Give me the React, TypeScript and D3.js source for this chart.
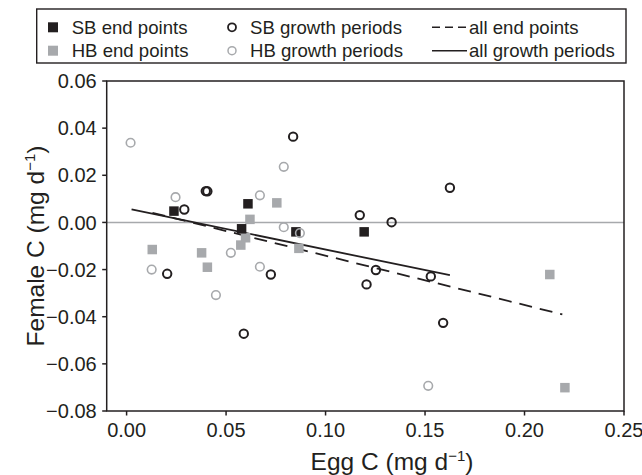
import React from "react";
import * as d3 from "d3";

// ---- Data ----
const sbEndX = [0.0238, 0.061, 0.0578, 0.0851, 0.1194];
const sbEndY = [0.0048, 0.0079, -0.0027, -0.004, -0.004];

const hbEndX = [0.0129, 0.0377, 0.0406, 0.0574, 0.0598, 0.062, 0.0755, 0.0866, 0.2127, 0.2203];
const hbEndY = [-0.0115, -0.0129, -0.019, -0.0096, -0.0065, 0.0013, 0.0083, -0.011, -0.0221, -0.0701];

const sbGrowthX = [0.0204, 0.029, 0.0398, 0.0406, 0.0589, 0.0725, 0.0837, 0.1172, 0.1206, 0.1253, 0.1332, 0.1529, 0.1591, 0.1625];
const sbGrowthY = [-0.0218, 0.0055, 0.0133, 0.0132, -0.0472, -0.0221, 0.0364, 0.0031, -0.0263, -0.0202, 0.0001, -0.0229, -0.0426, 0.0147];

const hbGrowthX = [0.002, 0.0126, 0.0246, 0.0449, 0.0524, 0.067, 0.067, 0.079, 0.079, 0.0871, 0.1516];
const hbGrowthY = [0.0338, -0.02, 0.0107, -0.0308, -0.0129, 0.0115, -0.0188, 0.0236, -0.002, -0.0045, -0.0693];

// regression line end points
const endFitX = [0.013, 0.219];
const endFitY = [0.0041, -0.039];
const growthFitX = [0.0025, 0.1625];
const growthFitY = [0.0055, -0.0224];

const xTicks = [0, 0.05, 0.1, 0.15, 0.2, 0.25];
const yTicks = [0.06, 0.04, 0.02, 0, -0.02, -0.04, -0.06, -0.08];

const legendRow1 = ["SB end points", "SB growth periods", "all end points"];
const legendRow2 = ["HB end points", "HB growth periods", "all growth periods"];

const DARK = "#231f20";
const GRAY = "#a7a9ac";
const FONT = "'Liberation Sans', Arial, Helvetica, sans-serif";

export default function App() {
  const W = 642, H = 475;
  const L = 106.7, R = 624, T = 81, B = 411;
  const x = d3.scaleLinear().domain([-0.01, 0.25]).range([L, R]);
  const y = d3.scaleLinear().domain([-0.08, 0.06]).range([B, T]);
  const fmt = d3.format(".2f");
  const line = d3.line<[number, number]>().x(d => x(d[0])).y(d => y(d[1]));
  const pts = (xs: number[], ys: number[]) => xs.map((v, i) => [v, ys[i]] as [number, number]);
  const sq = 9.5;

  return (
    <div style={{ position: "fixed", left: 0, top: 0 }}>
      <svg width={W} height={H} style={{ display: "block", background: "#fff" }} fontFamily={FONT}>
        {/* legend */}
        <rect x={36.7} y={9} width={589.3} height={54} fill="none" stroke={DARK} strokeWidth={1.4} />
        <g fontSize={18.6} fill={DARK}>
          <rect x={53 - 5} y={27.3 - 5} width={10} height={10} fill={DARK} />
          <text x={71.7} y={34}>{legendRow1[0]}</text>
          <circle cx={232} cy={27.3} r={4} fill="none" stroke={DARK} strokeWidth={1.8} />
          <text x={250} y={34}>{legendRow1[1]}</text>
          <line x1={432} x2={467} y1={27.3} y2={27.3} stroke={DARK} strokeWidth={1.4} strokeDasharray="8,5" />
          <text x={469} y={34}>{legendRow1[2]}</text>

          <rect x={53 - 5} y={50.7 - 5} width={10} height={10} fill={GRAY} />
          <text x={71.7} y={57.3}>{legendRow2[0]}</text>
          <circle cx={232} cy={50.7} r={4} fill="none" stroke={GRAY} strokeWidth={1.5} />
          <text x={250} y={57.3}>{legendRow2[1]}</text>
          <line x1={432} x2={467} y1={50.7} y2={50.7} stroke={DARK} strokeWidth={1.4} />
          <text x={469} y={57.3}>{legendRow2[2]}</text>
        </g>

        {/* zero line */}
        <line x1={L} x2={R} y1={y(0)} y2={y(0)} stroke={GRAY} strokeWidth={1.6} />

        {/* regression lines */}
        <path d={line(pts(endFitX, endFitY)) || ""} fill="none" stroke={DARK} strokeWidth={1.8} strokeDasharray="13,8" />
        <path d={line(pts(growthFitX, growthFitY)) || ""} fill="none" stroke={DARK} strokeWidth={1.8} />

        {/* markers */}
        {pts(hbEndX, hbEndY).map((d, i) => (
          <rect key={"he" + i} x={x(d[0]) - sq / 2} y={y(d[1]) - sq / 2} width={sq} height={sq} fill={GRAY} />
        ))}
        {pts(sbEndX, sbEndY).map((d, i) => (
          <rect key={"se" + i} x={x(d[0]) - sq / 2} y={y(d[1]) - sq / 2} width={sq} height={sq} fill={DARK} />
        ))}
        {pts(hbGrowthX, hbGrowthY).map((d, i) => (
          <circle key={"hg" + i} cx={x(d[0])} cy={y(d[1])} r={4.3} fill="none" stroke={GRAY} strokeWidth={1.6} />
        ))}
        {pts(sbGrowthX, sbGrowthY).map((d, i) => (
          <circle key={"sg" + i} cx={x(d[0])} cy={y(d[1])} r={4.2} fill="none" stroke={DARK} strokeWidth={2} />
        ))}

        {/* frame */}
        <rect x={L} y={T} width={R - L} height={B - T} fill="none" stroke={DARK} strokeWidth={1.5} />

        {/* axes ticks */}
        <g fontSize={20} fill={DARK}>
          {yTicks.map((t, i) => (
            <g key={"yt" + i}>
              <line x1={L - 4.5} x2={L} y1={y(t)} y2={y(t)} stroke={DARK} strokeWidth={1.5} />
              <text x={96.7} y={y(t)} dy="0.36em" textAnchor="end">{fmt(t)}</text>
            </g>
          ))}
          {xTicks.map((t, i) => (
            <g key={"xt" + i}>
              <line x1={x(t)} x2={x(t)} y1={B} y2={B + 4.5} stroke={DARK} strokeWidth={1.5} />
              <text x={x(t)} y={436.5} textAnchor="middle">{fmt(t)}</text>
            </g>
          ))}
        </g>

        {/* axis titles */}
        <text x={392} y={470} textAnchor="middle" fontSize={24.5} fill={DARK}>
          Egg C (mg d<tspan fontSize={15} dy={-9}>−1</tspan><tspan dy={9}>)</tspan>
        </text>
        <text transform={`translate(44,${(T + B) / 2}) rotate(-90)`} textAnchor="middle" fontSize={24.5} fill={DARK}>
          Female C (mg d<tspan fontSize={15} dy={-9}>−1</tspan><tspan dy={9}>)</tspan>
        </text>
      </svg>
    </div>
  );
}
